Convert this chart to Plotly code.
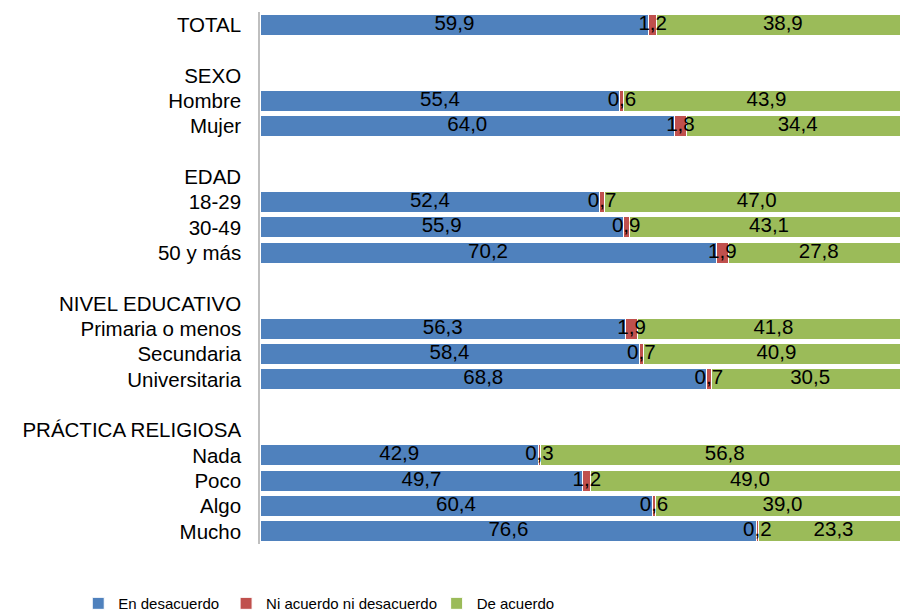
import plotly.graph_objects as go

categories = ["TOTAL", " ", "SEXO", "Hombre", "Mujer", "  ", "EDAD", "18-29", "30-49",
              "50 y más", "   ", "NIVEL EDUCATIVO", "Primaria o menos", "Secundaria",
              "Universitaria", "    ", "PRÁCTICA RELIGIOSA", "Nada", "Poco", "Algo", "Mucho"]

en_desacuerdo = [59.9, None, None, 55.4, 64.0, None, None, 52.4, 55.9, 70.2, None, None,
                 56.3, 58.4, 68.8, None, None, 42.9, 49.7, 60.4, 76.6]
ni_acuerdo = [1.2, None, None, 0.6, 1.8, None, None, 0.7, 0.9, 1.9, None, None,
              1.9, 0.7, 0.7, None, None, 0.3, 1.2, 0.6, 0.2]
de_acuerdo = [38.9, None, None, 43.9, 34.4, None, None, 47.0, 43.1, 27.8, None, None,
              41.8, 40.9, 30.5, None, None, 56.8, 49.0, 39.0, 23.3]

series = [
    ("En desacuerdo", en_desacuerdo, "#4F81BD", "legend"),
    ("Ni acuerdo ni desacuerdo", ni_acuerdo, "#C0504D", "legend2"),
    ("De acuerdo", de_acuerdo, "#9BBB59", "legend3"),
]

FS = 20.5


def fmt(v):
    return "" if v is None else f"{v:.1f}".replace(".", ",")


fig = go.Figure()
for name, vals, color, leg in series:
    fig.add_trace(go.Bar(
        y=categories, x=vals, name=name, orientation="h",
        marker=dict(color=color, line=dict(color="#FFFFFF", width=1)),
        legend=leg, hoverinfo="skip",
    ))

# value labels drawn on top of all bars, centred in each (normalised) segment
lab_x, lab_y, lab_t = [], [], []
for i, cat in enumerate(categories):
    parts = [en_desacuerdo[i], ni_acuerdo[i], de_acuerdo[i]]
    if parts[0] is None:
        continue
    total = sum(parts)
    start = 0.0
    for v in parts:
        w = v / total * 100
        lab_x.append(start + w / 2)
        lab_y.append(cat)
        lab_t.append(fmt(v))
        start += w

fig.add_trace(go.Scatter(
    x=lab_x, y=lab_y, text=lab_t, mode="text", textposition="middle center",
    textfont=dict(color="#000000", size=FS, family="Liberation Sans, Arial"),
    showlegend=False, hoverinfo="skip", cliponaxis=False,
))

leg_common = dict(orientation="h", yanchor="middle", y=-0.112, xanchor="left",
                  font=dict(family="Liberation Sans, Arial", size=15, color="#000000"),
                  bgcolor="rgba(0,0,0,0)", borderwidth=0)

fig.update_layout(
    width=902, height=612,
    barmode="stack", barnorm="percent", bargap=0.17,
    paper_bgcolor="white", plot_bgcolor="white",
    margin=dict(l=260, r=2, t=12, b=68, autoexpand=False),
    showlegend=True,
    legend=dict(leg_common, x=-0.284),
    legend2=dict(leg_common, x=-0.053),
    legend3=dict(leg_common, x=0.276),
    font=dict(family="Liberation Sans, Arial", size=FS, color="#000000"),
    xaxis=dict(range=[0, 98.6], visible=False, fixedrange=True),
    yaxis=dict(range=[len(categories) - 0.5, -0.5], categoryorder="array",
               categoryarray=categories, tickmode="array", tickvals=categories,
               ticktext=categories,
               showline=True, linecolor="#BFBFBF", linewidth=1.5, ticks="",
               ticklabelstandoff=13, tickfont=dict(size=FS, color="#000000"),
               showgrid=False, zeroline=False, fixedrange=True),
)

fig.write_html("out.html", config={"displayModeBar": False},
               post_script="document.body.style.margin='0';document.body.style.overflow='hidden';")
